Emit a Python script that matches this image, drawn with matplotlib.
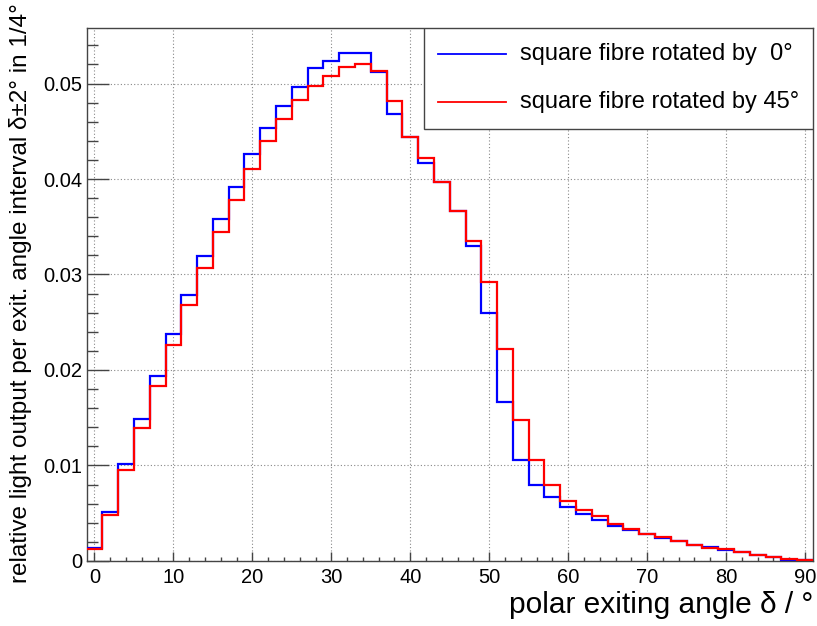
import matplotlib
matplotlib.use("Agg")
import matplotlib.pyplot as plt
import numpy as np
from matplotlib.patches import Rectangle
from matplotlib.ticker import FuncFormatter, MultipleLocator

plt.rcParams["font.family"] = ["Liberation Sans", "DejaVu Sans"]

# bin centres in degrees (bins 2 deg wide)
angles = np.arange(0, 92, 2)

# square fibre rotated by 0 deg
light_0 = [
    0.0013, 0.0051, 0.0101, 0.0149, 0.0194, 0.0238, 0.0279, 0.0319, 0.0358, 0.0392,
    0.0426, 0.0453, 0.0477, 0.0496, 0.0516, 0.0524, 0.0532, 0.0532, 0.0512, 0.0468,
    0.0444, 0.0417, 0.0397, 0.0367, 0.0330, 0.0260, 0.0166, 0.0106, 0.0080, 0.0067,
    0.0056, 0.0049, 0.0043, 0.0037, 0.0032, 0.0028, 0.0024, 0.0021, 0.0017, 0.0015,
    0.0011, 0.0009, 0.0006, 0.0004, 0.0001, 0.00005,
]

# square fibre rotated by 45 deg
light_45 = [
    0.0012, 0.0048, 0.0095, 0.0139, 0.0183, 0.0226, 0.0268, 0.0307, 0.0345, 0.0378,
    0.0410, 0.0440, 0.0463, 0.0483, 0.0497, 0.0508, 0.0517, 0.0520, 0.0513, 0.0482,
    0.0444, 0.0422, 0.0397, 0.0367, 0.0335, 0.0292, 0.0222, 0.0148, 0.0106, 0.0080,
    0.0063, 0.0053, 0.0047, 0.0039, 0.0033, 0.0028, 0.0025, 0.0021, 0.0017, 0.0014,
    0.0012, 0.0009, 0.0006, 0.0004, 0.00015, 0.00007,
]

labels = ["square fibre rotated by  0°", "square fibre rotated by 45°"]
colors = ["#0000ff", "#ff0000"]

edges = np.append(angles - 1, angles[-1] + 1)

fig = plt.figure(figsize=(8.17, 6.26), dpi=100)
ax = fig.add_axes([0.106, 0.104, 0.889, 0.851])

for vals, col in zip([light_0, light_45], colors):
    ax.stairs(vals, edges, baseline=None, color=col, lw=1.6, zorder=3)

ax.set_xlim(-1, 91)
ax.set_ylim(0, 0.0558)

ax.xaxis.set_major_locator(MultipleLocator(10))
ax.xaxis.set_minor_locator(MultipleLocator(2))
ax.yaxis.set_major_locator(MultipleLocator(0.01))
ax.yaxis.set_minor_locator(MultipleLocator(0.002))
ax.yaxis.set_major_formatter(FuncFormatter(lambda v, p: "0" if abs(v) < 1e-9 else "%.2f" % v))

frame_col = "#444444"
ax.tick_params(axis="x", which="major", direction="in", length=6.5, width=1,
               color=frame_col, labelsize=14.5, pad=5)
ax.tick_params(axis="x", which="minor", direction="in", length=3.2, width=1, color=frame_col)
ax.tick_params(axis="y", which="major", direction="in", length=15.5, width=1,
               color=frame_col, labelsize=14.5, pad=3)
ax.tick_params(axis="y", which="minor", direction="in", length=7.7, width=1, color=frame_col)
for s in ax.spines.values():
    s.set_color(frame_col)
    s.set_linewidth(1)

ax.grid(True, which="major", color="#888888", lw=0.8, linestyle=(0, (1, 2)))
ax.set_axisbelow(True)

# legend box in the upper right corner
lx0, ly0 = 0.4644, 0.811
ax.add_patch(Rectangle((lx0, ly0), 1 - lx0, 1 - ly0, transform=ax.transAxes,
                       facecolor="white", edgecolor=frame_col, lw=1, zorder=5))
for yy, lab, col in zip([0.951, 0.861], labels, colors):
    ax.plot([0.4837, 0.5773], [yy, yy], color=col, lw=1.3, transform=ax.transAxes, zorder=6)
    ax.text(0.5965, yy, lab, transform=ax.transAxes, fontsize=17, va="center",
            ha="left", zorder=6)

fig.text(0.995, 0.021, "polar exiting angle δ / °", fontsize=21.5, ha="right", va="baseline")
fig.text(0.025, 0.995, "relative light output per exit. angle interval δ±2° in 1/4°",
         fontsize=17.5, rotation=90, ha="center", va="top")

fig.savefig("out.png", dpi=100)
